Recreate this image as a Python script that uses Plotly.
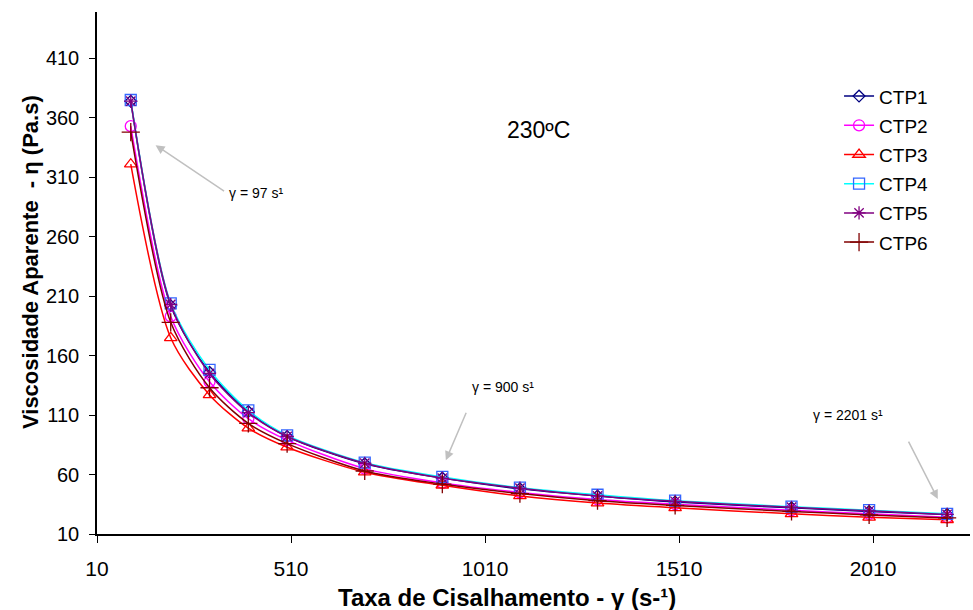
import plotly.graph_objects as go

shear_rate = [97, 200, 300, 400, 500, 700, 900, 1100, 1300, 1500, 1800, 2000, 2201]
ctp1 = [374, 202, 146, 113, 92, 69, 57, 48, 42, 37, 32, 29, 26.5]
ctp2 = [353, 193, 138, 107, 89, 65, 53, 45, 39, 35, 30, 27, 24]
ctp3 = [321, 175, 127, 99, 83, 62, 51, 42, 36, 32, 27, 24, 22]
ctp4 = [375, 204, 148, 114, 93, 70, 58, 49, 43, 38, 33, 30, 27]
ctp5 = [374, 203, 145, 112, 92, 69.5, 57, 48.5, 42, 37.5, 32.5, 29.5, 26.5]
ctp6 = [348, 188, 133, 103, 86, 63, 52, 44, 38, 34, 29, 26, 23.5]

series_names = ["CTP1", "CTP2", "CTP3", "CTP4", "CTP5", "CTP6"]
series_values = [ctp1, ctp2, ctp3, ctp4, ctp5, ctp6]
line_colors = ["#000080", "#FF00FF", "#FF0000", "#00FFFF", "#800080", "#800000"]
marker_colors = ["#000080", "#FF00FF", "#FF0000", "#3366FF", "#800080", "#800000"]
symbols = ["diamond-open", "circle-open", "triangle-up-open", "square-open",
           "asterisk-open", "cross-thin-open"]
sizes = [9, 11, 11, 11, 11, 13]

x_title = "<b>Taxa de Cisalhamento - γ (s-¹)</b>"
y_title = "<b>Viscosidade Aparente  - η (Pa.s)</b>"

FONT = "Liberation Sans, Arial, sans-serif"

fig = go.Figure()
for i, (name, vals) in enumerate(zip(series_names, series_values)):
    fig.add_trace(go.Scatter(
        x=shear_rate, y=vals, name=name, mode="lines+markers",
        line=dict(color=line_colors[i], width=1.5, shape="spline", smoothing=0.8),
        marker=dict(symbol=symbols[i], color=marker_colors[i], size=sizes[i],
                    line=dict(width=1.3, color=marker_colors[i])),
        legendgroup=name,
    ))

arrow_color = "#C0C0C0"
ann = []
ann.append(dict(x=1148, y=349.5, text="230ºC", showarrow=False,
                font=dict(size=23, family=FONT, color="black")))
texts = [("γ = 97 s¹", 419, 297), ("γ = 900 s¹", 1056, 133.5), ("γ = 2201 s¹", 1945, 110)]
for t, x, y in texts:
    ann.append(dict(x=x, y=y, text=t, showarrow=False,
                    font=dict(size=14, family=FONT, color="black")))
arrows = [(161, 337, 70, 47), (909, 72, 21, -49), (2177, 39.4, -30, -59)]
for x, y, ax, ay in arrows:
    ann.append(dict(x=x, y=y, ax=ax, ay=ay, text="", showarrow=True,
                    arrowhead=2, arrowsize=1.2, arrowwidth=1.5, arrowcolor=arrow_color))
# axis titles placed as annotations (offset from axis centre as in the reference)
ann.append(dict(xref="paper", yref="paper", x=(507 - 97) / 873, y=-(597 - 534) / 522,
                text=x_title, showarrow=False, xanchor="center", yanchor="middle",
                font=dict(size=24, family=FONT, color="black")))
ann.append(dict(xref="paper", yref="paper", x=-(97 - 30) / 873, y=(534 - 262) / 522,
                text=y_title, showarrow=False, textangle=-90, xanchor="center",
                yanchor="middle", font=dict(size=22, family=FONT, color="black")))

fig.update_layout(
    width=973, height=610,
    margin=dict(l=97, r=3, t=12, b=76, autoexpand=False),
    paper_bgcolor="white", plot_bgcolor="white",
    font=dict(family=FONT, size=20, color="black"),
    showlegend=True,
    legend=dict(x=0.85, y=0.875, xanchor="left", yanchor="top",
                font=dict(size=19, family=FONT), tracegroupgap=1.5,
                traceorder="grouped", bgcolor="rgba(0,0,0,0)"),
    annotations=ann,
)
fig.update_xaxes(
    range=[10, 2260], tick0=10, dtick=500, showgrid=False, zeroline=False,
    showline=True, linecolor="black", linewidth=1.5, ticks="outside",
    ticklen=7, tickcolor="black", tickfont=dict(size=21), ticklabelstandoff=8,
    automargin=False,
)
fig.update_yaxes(
    range=[10, 449], tick0=10, dtick=50, showgrid=False, zeroline=False,
    showline=True, linecolor="black", linewidth=1.5, ticks="outside",
    ticklen=6, tickcolor="black", tickfont=dict(size=20), ticklabelstandoff=6,
    automargin=False,
)

fig.write_html("out.html")
